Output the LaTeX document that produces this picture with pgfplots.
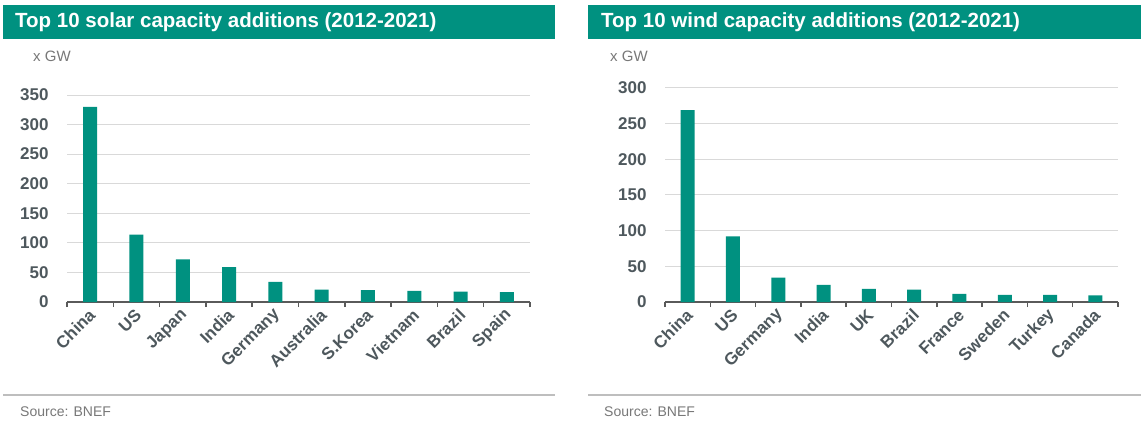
\documentclass[border=0pt]{standalone}
\usepackage{fontspec}
\setmainfont{Liberation Sans}
\usepackage{pgfplots}
\pgfplotsset{compat=1.18}

\definecolor{bnefteal}{RGB}{0,145,128}
\definecolor{labelgray}{RGB}{78,88,93}
\definecolor{axisgray}{RGB}{90,90,90}
\definecolor{gridgray}{RGB}{217,217,217}
\definecolor{notegray}{RGB}{120,120,120}
\definecolor{rulegray}{RGB}{190,190,190}

\pgfplotsset{
  panel/.style={
    scale only axis,
    anchor=south west,
    ybar,
    bar width=14pt,
    xmin=-0.5, xmax=9.5,
    ymin=0,
    xtick={-0.5,0.5,1.5,2.5,3.5,4.5,5.5,6.5,7.5,8.5,9.5},
    x tick label as interval,
    tick align=outside,
    major tick length=5pt,
    axis lines*=left,
    y axis line style={draw=none},
    x axis line style={draw=axisgray, line width=1.8pt},
    xtick style={draw=axisgray, line width=1.5pt},
    ytick style={draw=none},
    ymajorgrids,
    grid style={draw=gridgray, line width=1pt},
    /pgf/number format/assume math mode=true,
    ticklabel style={font=\fontsize{17}{20}\selectfont\bfseries, text=labelgray},
    yticklabel style={xshift=-10pt},
    xticklabel style={rotate=45, anchor=east, xshift=1pt, yshift=-5pt},
  }
}

\begin{document}
\begin{tikzpicture}
\useasboundingbox (0pt,0pt) rectangle (1146pt,426pt);
\fill[white] (0pt,0pt) rectangle (1146pt,426pt);

% headers
\fill[bnefteal] (3pt,387pt) rectangle (555pt,421pt);
\fill[bnefteal] (588pt,387pt) rectangle (1141pt,421pt);
\node[anchor=west, text=white, font=\fontsize{20.5}{24}\selectfont\bfseries, inner sep=0pt] at (15pt,404pt) {Top 10 solar capacity additions (2012-2021)};
\node[anchor=west, text=white, font=\fontsize{20.5}{24}\selectfont\bfseries, inner sep=0pt] at (601pt,404pt) {Top 10 wind capacity additions (2012-2021)};

% units
\node[anchor=west, text=notegray, font=\fontsize{15}{18}\selectfont, inner sep=0pt] at (33pt,370pt) {x GW};
\node[anchor=west, text=notegray, font=\fontsize{15}{18}\selectfont, inner sep=0pt] at (610pt,370pt) {x GW};

% footers
\draw[rulegray, line width=1.5pt] (3pt,31pt) -- (555pt,31pt);
\draw[rulegray, line width=1.5pt] (588pt,31pt) -- (1141pt,31pt);
\node[anchor=west, text=notegray, font=\fontsize{14}{17}\selectfont, inner sep=0pt] at (20pt,14pt) {Source: BNEF};
\node[anchor=west, text=notegray, font=\fontsize{14}{17}\selectfont, inner sep=0pt] at (604pt,14pt) {Source: BNEF};

\begin{axis}[panel, at={(67pt,124pt)}, width=463pt, height=207pt,
  ymax=350, ytick={0,50,...,350},
  xticklabels={China,US,Japan,India,Germany,Australia,S.Korea,Vietnam,Brazil,Spain}]
\addplot[fill=bnefteal, draw=none] coordinates {
  (0,330) (1,114) (2,72) (3,59) (4,34) (5,21) (6,20) (7,19) (8,17.6) (9,16.5)};
\end{axis}

\begin{axis}[panel, at={(665pt,124pt)}, width=453pt, height=214pt,
  ymax=300, ytick={0,50,...,300},
  xticklabels={China,US,Germany,India,UK,Brazil,France,Sweden,Turkey,Canada}]
\addplot[fill=bnefteal, draw=none] coordinates {
  (0,269) (1,92) (2,34) (3,24) (4,18.3) (5,17.4) (6,11.3) (7,9.9) (8,9.9) (9,9.4)};
\end{axis}
\end{tikzpicture}
\end{document}
